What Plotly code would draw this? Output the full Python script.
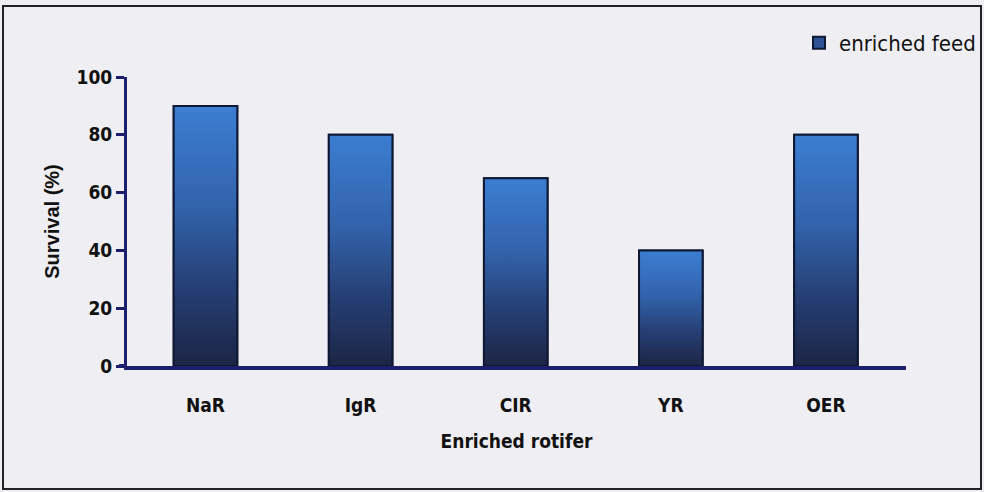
"""Survival of larvae fed different enriched rotifers (bar chart with gradient bars)."""

import plotly.graph_objects as go

# data
rotifers = ["NaR", "IgR", "CIR", "YR", "OER"]
survival = [90, 80, 65, 40, 80]
y_ticks = [0, 20, 40, 60, 80, 100]

NAVY = "#1c1f6b"
EDGE = "#0f1833"
BG = "#eeeef3"
FONT = "DejaVu Sans Condensed, Liberation Sans, sans-serif"
GRAD = [[0, "#1c2545"], [0.3, "#263f74"], [0.6, "#3262aa"], [1, "#3c7ed2"]]

BAR_W = 0.41
W, H = 984, 492
L, R, T, B = 127, 78, 77, 126

pos = list(range(len(rotifers)))

fig = go.Figure()

# solid bar underneath (gives the legend entry)
fig.add_trace(go.Bar(
    x=pos, y=survival, width=BAR_W, name="enriched feed",
    marker=dict(color="#2c5294", line=dict(color=EDGE, width=2)),
))

# gradient overlay, one closed outline per bar built from the data
for p, v in zip(pos, survival):
    x0, x1 = p - BAR_W / 2, p + BAR_W / 2
    fig.add_trace(go.Scatter(
        x=[x0, x0, x1, x1, x0], y=[0, v, v, 0, 0],
        mode="lines", fill="toself",
        fillgradient=dict(type="vertical", colorscale=GRAD),
        line=dict(color=EDGE, width=2),
        showlegend=False, hoverinfo="skip",
    ))

pw = W - L - R
ph = H - T - B
# outer frame of the scanned figure
fig.add_shape(type="rect", xref="paper", yref="paper",
              x0=-(L - 3) / pw, x1=1 + (R - 3) / pw,
              y0=-(B - 3) / ph, y1=1 + (T - 6) / ph,
              line=dict(color="#222222", width=2), layer="below")
# x axis line runs a little past the y axis, like the original
fig.add_shape(type="line", xref="paper", yref="paper",
              x0=-8 / pw, x1=0, y0=0, y1=0,
              line=dict(color=NAVY, width=4))

fig.update_layout(
    width=W, height=H,
    margin=dict(l=L, r=R, t=T, b=B, autoexpand=False),
    paper_bgcolor=BG, plot_bgcolor=BG,
    font=dict(family=FONT, color="#111111", size=18),
    showlegend=True,
    legend=dict(x=1 + (R - 3) / pw, xanchor="right", y=1 + 34 / ph,
                yanchor="middle", bgcolor="rgba(0,0,0,0)",
                font=dict(size=22, family=FONT),
                itemwidth=30),
    xaxis=dict(
        range=[-0.506, 4.516], tickvals=pos, ticktext=rotifers,
        showgrid=False, zeroline=False, showline=True,
        linecolor=NAVY, linewidth=4, ticks="",
        tickfont=dict(size=19, family=FONT, weight="bold"),
        ticklabelstandoff=19,
        title=dict(text="Enriched rotifer", standoff=21,
                   font=dict(size=19, family=FONT, weight="bold")),
    ),
    yaxis=dict(
        range=[0, 100], tickvals=y_ticks,
        showgrid=False, zeroline=False, showline=True,
        linecolor=NAVY, linewidth=3, ticks="outside", ticklen=8,
        tickwidth=3, tickcolor=NAVY,
        tickfont=dict(size=19, family=FONT, weight="bold"),
        title=dict(text="Survival (%)", standoff=12,
                   font=dict(size=20, family="Liberation Sans, Arial, sans-serif",
                             weight="bold")),
    ),
)

fig.write_html("out.html", config={"displayModeBar": False},
               post_script="document.body.style.margin='0';")
